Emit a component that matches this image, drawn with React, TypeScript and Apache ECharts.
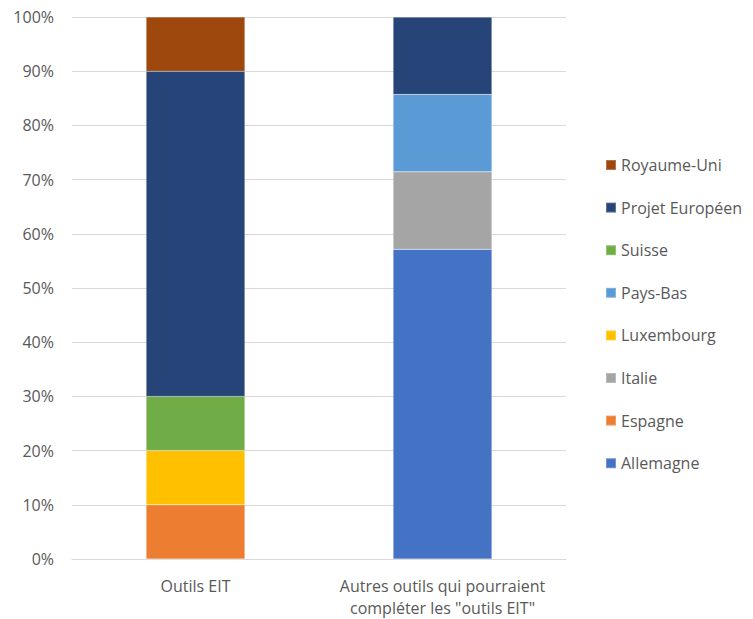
import React, { useEffect, useRef } from "react";
import * as echarts from "echarts";

const categories = ["Outils EIT", "Autres outils qui pourraient\ncompléter les \"outils EIT\""];
const seriesNames = ["Allemagne", "Espagne", "Italie", "Luxembourg", "Pays-Bas", "Suisse", "Projet Européen", "Royaume-Uni"];
const allemagne = [0, 57.14];
const espagne = [10, 0];
const italie = [0, 14.29];
const luxembourg = [10, 0];
const paysBas = [0, 14.29];
const suisse = [10, 0];
const projetEuropeen = [60, 14.28];
const royaumeUni = [10, 0];

const colors = ["#4472C4", "#ED7D31", "#A5A5A5", "#FFC000", "#5B9BD5", "#70AD47", "#264478", "#9E480E"];
const values = [allemagne, espagne, italie, luxembourg, paysBas, suisse, projetEuropeen, royaumeUni];

export default function App() {
  const ref = useRef<HTMLDivElement>(null);
  useEffect(() => {
    if (!ref.current) return;
    const chart = echarts.init(ref.current, null, { renderer: "svg" });
    const font = "'Open Sans', sans-serif";
    chart.setOption({
      animation: false,
      textStyle: { fontFamily: font },
      grid: { left: 72, right: 187, top: 17, bottom: 60, containLabel: false },
      legend: {
        orient: "vertical",
        left: 600,
        top: 151,
        itemWidth: 10,
        itemHeight: 10,
        itemGap: 24.6,
        icon: "rect",
        data: [...seriesNames].reverse(),
        textStyle: { fontSize: 16, color: "#595959", lineHeight: 18, fontFamily: font },
      },
      xAxis: {
        type: "category",
        data: categories,
        axisLine: { lineStyle: { color: "#D9D9D9" } },
        axisTick: { show: false },
        axisLabel: { interval: 0, color: "#595959", fontSize: 16, lineHeight: 22, margin: 16, fontFamily: font },
      },
      yAxis: {
        type: "value",
        min: 0,
        max: 100,
        interval: 10,
        axisLine: { show: false },
        axisTick: { show: false },
        splitLine: { lineStyle: { color: "#D9D9D9" } },
        axisLabel: { color: "#595959", fontSize: 16, margin: 18, formatter: "{value}%", fontFamily: font },
      },
      series: seriesNames.map((name, i) => ({
        name,
        type: "bar",
        stack: "total",
        barWidth: "40%",
        data: values[i],
        itemStyle: { color: colors[i], borderColor: "rgba(255,255,255,0.25)", borderWidth: 0.5 },
      })),
    });
    return () => chart.dispose();
  }, []);
  return <div ref={ref} style={{ width: 753, height: 619, position: "absolute", left: 0, top: 0 }} />;
}
